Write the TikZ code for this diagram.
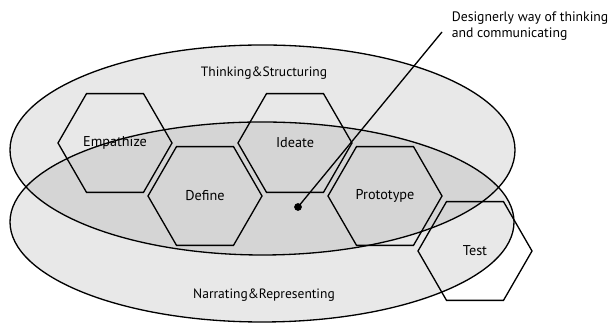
\documentclass[tikz,border=0pt]{standalone}
\usepackage{fontspec}
\setmainfont{PT Sans}
\usepackage{tikz}
\usetikzlibrary{shapes.geometric}
\definecolor{lightgrey}{HTML}{E8E8E8}
\definecolor{midgrey}{HTML}{D5D5D5}
\tikzset{
  phase/.style={regular polygon, regular polygon sides=6, draw, line width=0.75pt,
    minimum size=2.28cm, inner sep=0pt, font=\fontsize{8.1}{9.5}\selectfont},
  caption/.style={font=\fontsize{7.7}{9.5}\selectfont}
}

\begin{document}
\begin{tikzpicture}
\useasboundingbox (0,0) rectangle (12.18,6.48);
% the two fields
\fill[lightgrey] (5.25,3.48) ellipse (5.05 and 2.1);
\fill[lightgrey] (5.24,2.04) ellipse (5.04 and 2.0);
\begin{scope}
\clip (5.25,3.48) ellipse (5.05 and 2.1);
\fill[midgrey] (5.24,2.04) ellipse (5.04 and 2.0);
\end{scope}
\draw[line width=0.75pt] (5.25,3.48) ellipse (5.05 and 2.1);
\draw[line width=0.75pt] (5.24,2.04) ellipse (5.04 and 2.0);
\node[caption] (think) at (5.28,5.02) {Thinking\&Structuring};
\node[caption] (narr) at (5.28,0.58) {Narrating\&Representing};
% the five phases
\node[phase] (emp) at (2.3,3.62) {Empathize};
\node[phase] (def) at (4.1,2.56) {Define};
\node[phase] (ide) at (5.9,3.62) {Ideate};
\node[phase] (pro) at (7.7,2.56) {Prototype};
\node[phase] (tst) at (9.5,1.46) {Test};
% pointer
\fill (5.96,2.34) circle (2.2pt) coordinate (dot);
\coordinate (lead) at (8.84,5.84);
\draw[line width=0.75pt] (dot) -- (lead);
\node[caption, font=\fontsize{7.8}{9.3}\selectfont, anchor=north west, align=left,
  inner sep=0pt] (note) at (9.03,6.25)
  {Designerly way of thinking\\and communicating};
\end{tikzpicture}
\end{document}
